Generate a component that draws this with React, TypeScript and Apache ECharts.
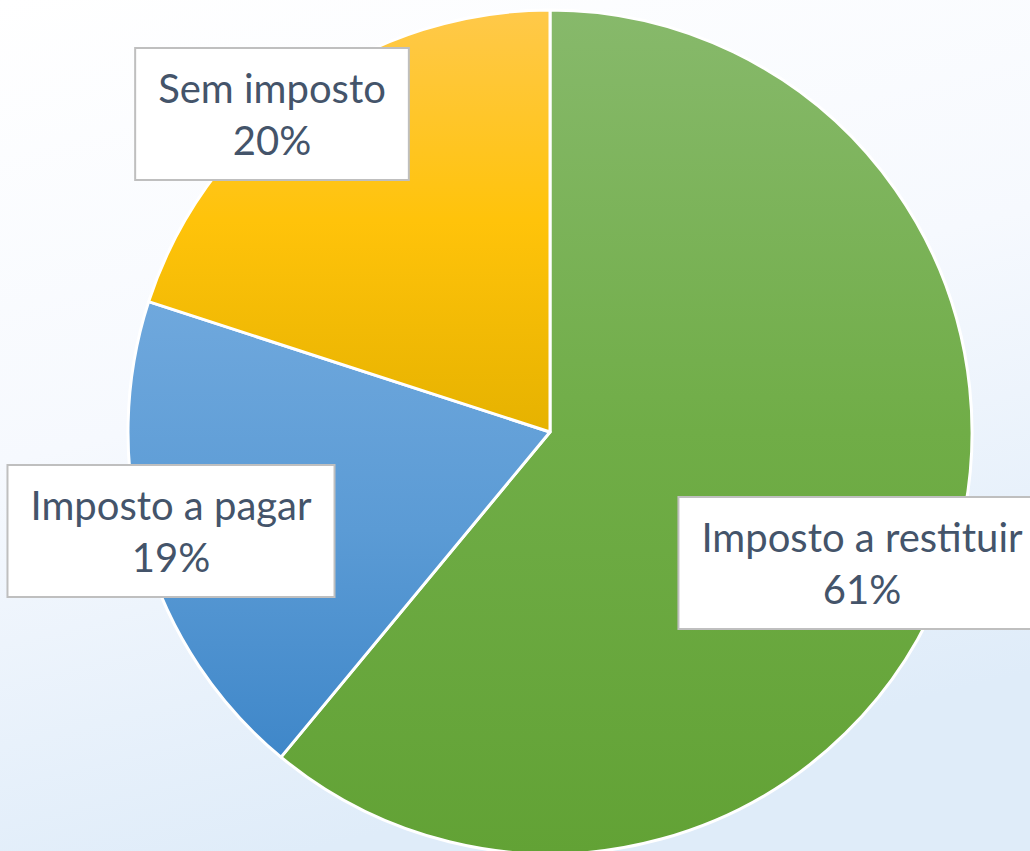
import React, { useEffect, useRef } from "react";
import * as echarts from "echarts";

const categories = ["Imposto a restituir", "Imposto a pagar", "Sem imposto"];
const values = [61, 19, 20];

const gradients = [
  ["#87B96B", "#70AD47", "#62A235"],
  ["#6FA8DD", "#5B9BD5", "#3F87C9"],
  ["#FFC94A", "#FFC30A", "#E6B200"],
];
const labelCenters = [
  [862, 563],
  [171, 531],
  [272, 114],
];

export default function App() {
  const ref = useRef<HTMLDivElement>(null);
  useEffect(() => {
    if (!ref.current) return;
    const chart = echarts.init(ref.current, null, { renderer: "svg" });
    chart.setOption({
      animation: false,
      backgroundColor: new echarts.graphic.LinearGradient(0, 0, 0.3, 1, [
        { offset: 0, color: "#FFFFFF" },
        { offset: 0.5, color: "#F6F9FE" },
        { offset: 1, color: "#DFECF9" },
      ]),
      series: [
        {
          type: "pie",
          center: [550, 432],
          radius: 422,
          startAngle: 90,
          clockwise: true,
          avoidLabelOverlap: false,
          itemStyle: { borderColor: "#FFFFFF", borderWidth: 3 },
          labelLine: { show: false },
          emphasis: { disabled: true },
          label: {
            show: true,
            position: "inside",
            formatter: (p: any) => `${p.name}\n${Math.round(p.percent)}%`,
            fontFamily: "Lato, 'Open Sans', sans-serif",
            fontSize: 40,
            lineHeight: 52,
            color: "#44546A",
            align: "center",
            backgroundColor: "#FFFFFF",
            borderColor: "#BFBFBF",
            borderWidth: 2,
            padding: [13, 22, 13, 22],
          },
          labelLayout: (params: any) => ({
            x: labelCenters[params.dataIndex][0],
            y: labelCenters[params.dataIndex][1],
            align: "center",
            verticalAlign: "middle",
          }),
          data: categories.map((name, i) => ({
            name,
            value: values[i],
            itemStyle: {
              color: new echarts.graphic.LinearGradient(0, 0, 0, 1, [
                { offset: 0, color: gradients[i][0] },
                { offset: 0.5, color: gradients[i][1] },
                { offset: 1, color: gradients[i][2] },
              ]),
            },
          })),
        },
      ],
    });
    return () => chart.dispose();
  }, []);
  return (
    <div
      ref={ref}
      style={{ position: "absolute", left: 0, top: 0, width: 1030, height: 851 }}
    />
  );
}
